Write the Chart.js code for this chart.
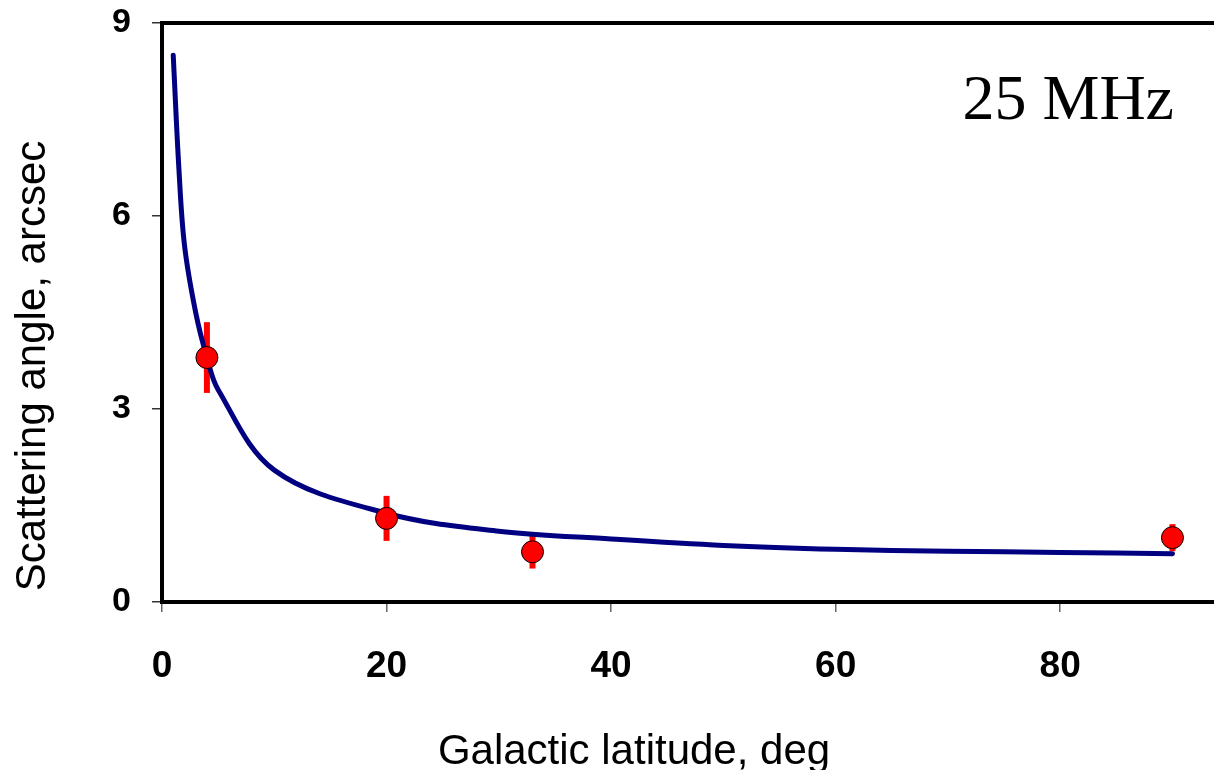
<!DOCTYPE html>
<html>
<head>
<meta charset="utf-8">
<script src="https://cdn.jsdelivr.net/npm/chart.js@4/dist/chart.umd.min.js"></script>
<style>
  html, body { margin: 0; padding: 0; background: #fff; overflow: hidden; }
  #wrap { width: 1214px; height: 770px; position: relative; }
  #c { display: block; }
</style>
</head>
<body>
<div id="wrap"><canvas id="c"></canvas></div>
<script>
// model curve (galactic latitude, deg -> scattering angle, arcsec)
var curveLat = [1, 1.5, 2, 3, 4, 5, 10, 20, 30, 40, 50, 60, 70, 80, 90];
var curveAngle = [8.5, 6.75, 5.55, 4.5, 3.8, 3.3, 2.05, 1.38, 1.1, 0.98, 0.88, 0.82, 0.79, 0.77, 0.75];

// measurements with error bars
var obsLat = [4, 20, 33, 90];
var obsAngle = [3.8, 1.3, 0.78, 1.0];
var obsErr = [0.55, 0.35, 0.26, 0.21];

var xTicks = [0, 20, 40, 60, 80];
var yTicks = [0, 3, 6, 9];

var xTitle = 'Galactic latitude, deg';
var yTitle = 'Scattering angle, arcsec';
var freqLabel = '25 MHz';

var curveData = curveLat.map(function (x, i) { return {x: x, y: curveAngle[i]}; });
var obsData = obsLat.map(function (x, i) { return {x: x, y: obsAngle[i]}; });

var sans = '"Liberation Sans", Arial, sans-serif';

var errorBars = {
    id: 'errorBars',
    beforeDatasetsDraw: function (chart) {
        var ctx = chart.ctx, xs = chart.scales.x, ys = chart.scales.y;
        ctx.save();
        ctx.strokeStyle = '#ff0000';
        ctx.lineWidth = 6;
        obsLat.forEach(function (x, i) {
            var px = xs.getPixelForValue(x);
            ctx.beginPath();
            ctx.moveTo(px, ys.getPixelForValue(obsAngle[i] - obsErr[i]));
            ctx.lineTo(px, ys.getPixelForValue(obsAngle[i] + obsErr[i]));
            ctx.stroke();
        });
        ctx.restore();
    }
};

var frameAndLabels = {
    id: 'frameAndLabels',
    afterDraw: function (chart) {
        var ctx = chart.ctx, a = chart.chartArea;
        ctx.save();
        // top frame line
        ctx.strokeStyle = '#000';
        ctx.lineWidth = 4;
        ctx.beginPath();
        ctx.moveTo(a.left - 2, a.top);
        ctx.lineTo(a.right, a.top);
        ctx.stroke();

        ctx.fillStyle = '#000';
        ctx.font = '64px "Liberation Serif", "Times New Roman", serif';
        ctx.textAlign = 'right';
        ctx.textBaseline = 'alphabetic';
        ctx.fillText(freqLabel, 1174, 119);

        // axis titles
        ctx.font = '42px ' + sans;
        ctx.textAlign = 'center';
        ctx.fillText(xTitle, 634, 764);
        ctx.translate(45, 366);
        ctx.rotate(-Math.PI / 2);
        ctx.fillText(yTitle, 0, 0);
        ctx.restore();
    }
};

new Chart('c', {
    type: 'scatter',
    data: {
        datasets: [{
            type: 'line',
            order: 1,
            data: curveData,
            borderColor: '#000080',
            borderWidth: 5,
            borderCapStyle: 'round',
            pointRadius: 0,
            fill: false,
            tension: 0.35
        }, {
            order: 0,
            data: obsData,
            backgroundColor: '#ff0000',
            borderColor: '#000',
            borderWidth: 1,
            pointRadius: 11
        }]
    },
    options: {
        responsive: true,
        maintainAspectRatio: false,
        animation: false,
        layout: {autoPadding: false, padding: {top: 23, right: 0, left: 0, bottom: 0}},
        plugins: {legend: {display: false}, tooltip: {enabled: false}},
        scales: {
            x: {
                type: 'linear',
                min: 0,
                max: 93.7,
                afterBuildTicks: function (s) { s.ticks = xTicks.map(function (v) { return {value: v}; }); },
                afterFit: function (s) { s.height = 168; s.paddingLeft = 0; s.paddingRight = 0; },
                border: {display: true, color: '#000', width: 4},
                grid: {display: true, drawOnChartArea: false, drawTicks: true, tickLength: 10, color: '#666', lineWidth: 1.5},
                ticks: {
                    color: '#000',
                    padding: 33,
                    font: {family: sans, size: 37, weight: 'bold'}
                }
            },
            y: {
                min: 0,
                max: 9,
                afterBuildTicks: function (s) { s.ticks = yTicks.map(function (v) { return {value: v}; }); },
                afterFit: function (s) { s.width = 162; s.paddingTop = 0; s.paddingBottom = 0; },
                border: {display: true, color: '#000', width: 4},
                grid: {display: true, drawOnChartArea: false, drawTicks: true, tickLength: 10, color: '#333', lineWidth: 1.5},
                ticks: {
                    color: '#000',
                    padding: 21,
                    font: {family: sans, size: 34, weight: 'bold'}
                }
            }
        }
    },
    plugins: [errorBars, frameAndLabels]
});
</script>
</body>
</html>
